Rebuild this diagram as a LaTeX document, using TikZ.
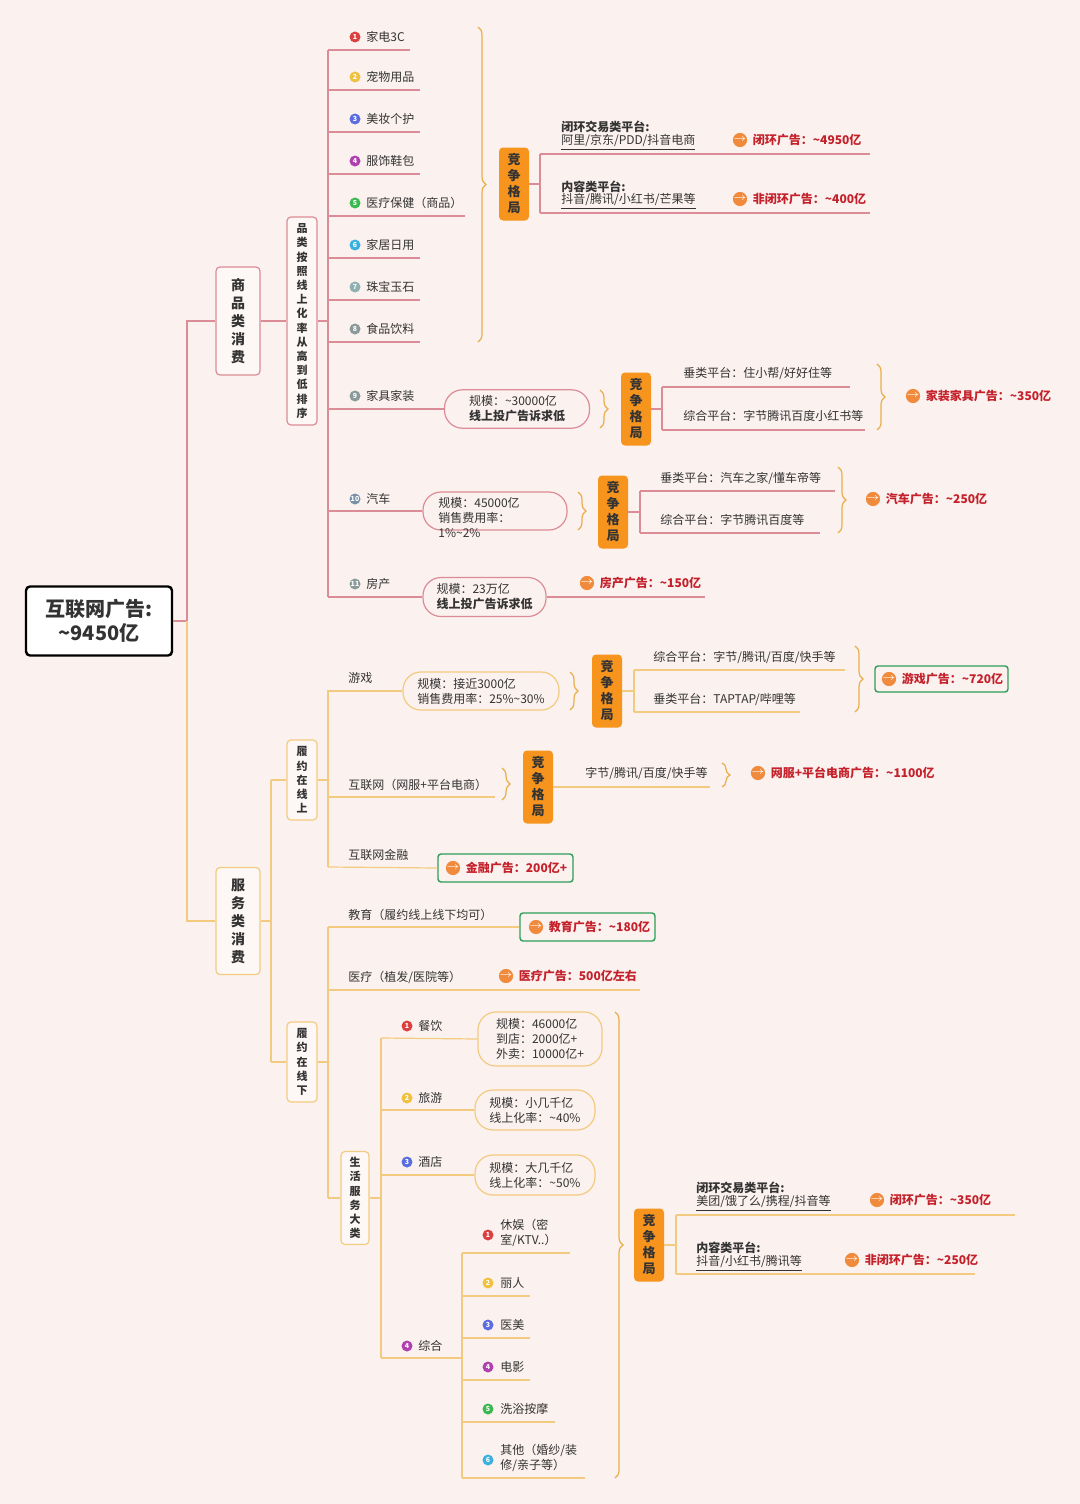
\documentclass[tikz,border=0pt]{standalone}
\usepackage{fontspec}
\setmainfont{Noto Sans CJK SC}
\usetikzlibrary{positioning,decorations.pathreplacing}

\definecolor{bgc}{HTML}{FBF1EE}
\definecolor{pkl}{HTML}{DC8C96}
\definecolor{orl}{HTML}{F3CB80}
\definecolor{brcc}{HTML}{E8AE4A}
\definecolor{jzc}{HTML}{F7941D}
\definecolor{redc}{HTML}{C4212B}
\definecolor{grn}{HTML}{2E9E5A}
\definecolor{icoc}{HTML}{F08A3C}
\definecolor{txt}{HTML}{333333}
\definecolor{boxf}{HTML}{FDF7F5}
\definecolor{c1}{HTML}{D9403F}
\definecolor{c2}{HTML}{F0C040}
\definecolor{c3}{HTML}{5B6DE0}
\definecolor{c4}{HTML}{B040B0}
\definecolor{c5}{HTML}{3CB850}
\definecolor{c6}{HTML}{3AB0E0}
\definecolor{c7}{HTML}{8FB0B0}
\definecolor{c8}{HTML}{8A9A9A}
\definecolor{c9}{HTML}{7A90A8}

\newcommand{\fs}{\fontsize{6}{7.5}\selectfont}
\newcommand{\tl}{\textasciitilde}
\newcommand{\adv}[4]{\node[ico] (#1i) at (#2,#3) {\(\rightarrow\)};
  \node[res,right=2.5pt of #1i] (#1) {#4};}

\tikzset{
  pk/.style={draw=pkl,line width=0.6pt},
  ol/.style={draw=orl,line width=0.6pt},
  brc/.style={draw=brcc,line width=0.6pt,decorate,decoration={brace,amplitude=4pt}},
  lbl/.style={anchor=west,inner sep=0pt,font=\fs,text=txt,align=left},
  num/.style={circle,fill=#1,text=white,inner sep=0pt,minimum size=5.5pt,font=\fontsize{3.5}{4}\selectfont\bfseries},
  vbox/.style={draw=#1,rounded corners=2pt,fill=boxf,align=center,inner sep=1pt,line width=0.6pt,
    font=\fontsize{6.5}{8}\selectfont\bfseries,text=txt},
  jz/.style={fill=jzc,rounded corners=2pt,align=center,minimum width=15pt,minimum height=36.5pt,
    inner sep=0pt,font=\fontsize{6.5}{8}\selectfont\bfseries,text=txt},
  pill/.style={draw=#1,rounded corners=9pt,align=left,inner sep=3pt,line width=0.6pt,font=\fs,text=txt},
  ico/.style={circle,fill=icoc,inner sep=0pt,minimum size=5.5pt,text=white,font=\fontsize{4}{4}\selectfont\bfseries},
  res/.style={anchor=west,inner sep=0pt,font=\fs\bfseries,text=redc},
  gbox/.style={draw=grn,line width=0.7pt,rounded corners=1.5pt,minimum height=13pt,inner sep=0pt},
}

\begin{document}
\begin{tikzpicture}[x=0.5pt,y=-0.5pt]
\fill[bgc] (0,0) rectangle (1080,1504);
\useasboundingbox (0,0) rectangle (1080,1504);

% root
\node[draw,line width=1.2pt,rounded corners=2pt,fill=white,align=center,minimum width=73pt,minimum height=34.5pt,
  font=\fontsize{10}{12}\selectfont\bfseries,text=txt] (root) at (99,621) {互联网广告:\\\tl9450亿};
\draw[pk] (root.east) -- (187,621);

% ---- goods
\node[vbox=pkl,minimum width=22pt,minimum height=54pt,font=\fontsize{7}{9}\selectfont\bfseries] (sp) at (238,321) {商\\品\\类\\消\\费};
\node[vbox=pkl,minimum width=15pt,minimum height=104pt,font=\fontsize{5.5}{7.1}\selectfont\bfseries] (pl) at (302,321)
  {品\\类\\按\\照\\线\\上\\化\\率\\从\\高\\到\\低\\排\\序};
\draw[pk] (187,621) |- (sp.west);
\draw[pk] (sp.east) -- (pl.west);
\draw[pk] (pl.east) -- (328,321);
\draw[pk] (328,50) -- (328,597);
\foreach \n/\t/\y/\w/\c in {1/家电3C/50/410/c1,2/宠物用品/90/420/c2,3/美妆个护/132/420/c3,4/服饰鞋包/174/420/c4,
  5/医疗保健（商品）/216/465/c5,6/家居日用/258/420/c6,7/珠宝玉石/300/420/c7,8/食品饮料/342/420/c8}{
  \node[num=\c] at (355,\y-13) {\n};
  \node[lbl] at (366,\y-13) {\t};
  \draw[pk] (328,\y) -- (\w,\y);
}
\draw[brc] (478,27) -- (478,342);
\node[jz] (jz1) at (514,184) {竞\\争\\格\\局};
\draw[pk] (jz1.east) -- (540,184);
\draw[pk] (540,154) -- (540,213);
\draw[pk] (540,154) -- (870,154);
\draw[pk] (540,213) -- (870,213);
\node[lbl,font=\fs\bfseries] at (561,127) {闭环交易类平台:};
\node[lbl] at (561,142) {\underline{阿里/京东/PDD/抖音电商}};
\node[lbl,font=\fs\bfseries] at (561,187) {内容类平台:};
\node[lbl] at (561,201) {\underline{抖音/腾讯/小红书/芒果等}};
\adv{a1}{740}{140}{闭环广告：\tl4950亿}
\adv{a2}{740}{199}{非闭环广告：\tl400亿}

% furniture
\node[num=c8] at (355,396) {9};
\node[lbl] at (366,396) {家具家装};
\node[pill=pkl,minimum width=72.5pt,minimum height=19pt] (p9) at (517,409) {规模：\tl30000亿\\\textbf{线上投广告诉求低}};
\draw[pk] (328,409) -- (p9.west);
\draw[brc] (600,390) -- (600,428);
\node[jz] (jz2) at (636,409) {竞\\争\\格\\局};
\draw[pk] (jz2.east) -- (662,409);
\draw[pk] (662,387) -- (662,430);
\draw[pk] (662,387) -- (850,387);
\draw[pk] (662,430) -- (865,430);
\node[lbl] at (683,374) {垂类平台：住小帮/好好住等};
\node[lbl] at (683,416) {综合平台：字节腾讯百度小红书等};
\draw[brc] (877,364) -- (877,430);
\adv{a3}{913}{396}{家装家具广告：\tl350亿}

% cars
\node[num=c9] at (355,499) {10};
\node[lbl] at (366,499) {汽车};
\node[pill=pkl,minimum width=72pt,minimum height=19pt] (p10) at (495,511) {};
\node[lbl] at (438,518) {规模：45000亿\\销售费用率：\\1\%\tl2\%};
\draw[pk] (328,511) -- (p10.west);
\draw[brc] (578,492) -- (578,530);
\node[jz] (jz3) at (613,512) {竞\\争\\格\\局};
\draw[pk] (jz3.east) -- (640,512);
\draw[pk] (640,491) -- (640,533);
\draw[pk] (640,491) -- (835,491);
\draw[pk] (640,533) -- (820,533);
\node[lbl] at (660,478) {垂类平台：汽车之家/懂车帝等};
\node[lbl] at (660,520) {综合平台：字节腾讯百度等};
\draw[brc] (838,467) -- (838,533);
\adv{a4}{873}{499}{汽车广告：\tl250亿}

% housing
\node[num=c8] at (355,584) {11};
\node[lbl] at (366,584) {房产};
\node[pill=pkl,minimum width=61.5pt,minimum height=19.5pt] (p11) at (484.5,597) {规模：23万亿\\\textbf{线上投广告诉求低}};
\draw[pk] (328,597) -- (p11.west);
\draw[pk] (p11.east) -- (705,597);
\adv{a5}{587}{583}{房产广告：\tl150亿}

% ---- services
\node[vbox=orl,minimum width=22pt,minimum height=53.5pt,font=\fontsize{7}{9}\selectfont\bfseries] (fw) at (238,921) {服\\务\\类\\消\\费};
\draw[ol] (187,621) |- (fw.west);
\draw[ol] (fw.east) -- (271,921);
\draw[ol] (271,780) -- (271,1062);
\node[vbox=orl,minimum width=15pt,minimum height=40pt,font=\fontsize{5.5}{7.1}\selectfont\bfseries] (xs) at (302,780) {履\\约\\在\\线\\上};
\node[vbox=orl,minimum width=15pt,minimum height=40pt,font=\fontsize{5.5}{7.1}\selectfont\bfseries] (xx) at (302,1062) {履\\约\\在\\线\\下};
\draw[ol] (271,780) -- (xs.west);
\draw[ol] (271,1062) -- (xx.west);

% online
\draw[ol] (xs.east) -- (328,780);
\draw[ol] (328,690) -- (328,867);
\node[lbl] at (348,678) {游戏};
\node[pill=orl,minimum width=78pt,minimum height=19pt] (pg) at (481,691) {规模：接近3000亿\\销售费用率：25\%\tl30\%};
\draw[ol] (328,691) -- (pg.west);
\draw[brc] (570,672) -- (570,710);
\node[jz] (jz4) at (607,691) {竞\\争\\格\\局};
\draw[ol] (jz4.east) -- (634,691);
\draw[ol] (634,670) -- (634,712);
\draw[ol] (634,670) -- (845,670);
\draw[ol] (634,712) -- (800,712);
\node[lbl] at (653,657) {综合平台：字节/腾讯/百度/快手等};
\node[lbl] at (653,699) {垂类平台：TAPTAP/哔哩等};
\draw[brc] (855,646) -- (855,712);
\node[gbox,minimum width=66.5pt] (g1) at (941.5,679) {};
\adv{a6}{889}{679}{游戏广告：\tl720亿}

\node[lbl] at (348,785) {互联网（网服+平台电商）};
\draw[ol] (328,797) -- (495,797);
\draw[brc] (502,768) -- (502,800);
\node[jz] (jz5) at (538,787) {竞\\争\\格\\局};
\draw[ol] (jz5.east) -- (710,787);
\node[lbl] at (585,773) {字节/腾讯/百度/快手等};
\draw[brc] (722,763) -- (722,787);
\adv{a7}{758}{773}{网服+平台电商广告：\tl1100亿}

\node[lbl] at (348,855) {互联网金融};
\node[gbox,minimum width=67.5pt,minimum height=14pt] (g2) at (505.5,868) {};
\draw[ol] (328,867) -- (g2.west);
\adv{a8}{453}{868}{金融广告：200亿+}

% offline
\draw[ol] (xx.east) -- (328,1062);
\draw[ol] (328,927) -- (328,1198);
\node[lbl] at (348,915) {教育（履约线上线下均可）};
\node[gbox,minimum width=67.5pt,minimum height=14pt] (g3) at (587.5,927) {};
\draw[ol] (328,927) -- (g3.west);
\adv{a9}{536}{927}{教育广告：\tl180亿}
\node[lbl] at (348,977) {医疗（植发/医院等）};
\draw[ol] (328,990) -- (640,990);
\adv{a10}{506}{976}{医疗广告：500亿左右}

\node[vbox=orl,minimum width=14pt,minimum height=46.5pt,font=\fontsize{5.5}{7.1}\selectfont\bfseries] (sh) at (355,1198) {生\\活\\服\\务\\大\\类};
\draw[ol] (328,1198) -- (sh.west);
\draw[ol] (sh.east) -- (381,1198);
\draw[ol] (381,1038) -- (381,1358);
\node[num=c1] at (407,1026) {1};
\node[lbl] at (418,1026) {餐饮};
\node[pill=orl,minimum width=62pt,minimum height=27pt] (pc) at (540,1039) {规模：46000亿\\到店：2000亿+\\外卖：10000亿+};
\draw[ol] (381,1038) -- (pc.west);
\node[num=c2] at (407,1098) {2};
\node[lbl] at (418,1098) {旅游};
\node[pill=orl,minimum width=60pt,minimum height=20pt] (pt) at (535,1110) {规模：小几千亿\\线上化率：\tl40\%};
\draw[ol] (381,1110) -- (pt.west);
\node[num=c3] at (407,1162) {3};
\node[lbl] at (418,1162) {酒店};
\node[pill=orl,minimum width=60pt,minimum height=20pt] (ph) at (535,1175) {规模：大几千亿\\线上化率：\tl50\%};
\draw[ol] (381,1175) -- (ph.west);
\node[num=c4] at (407,1346) {4};
\node[lbl] at (418,1346) {综合};
\draw[ol] (381,1358) -- (462,1358);
\draw[ol] (462,1253) -- (462,1478);
\foreach \n/\t/\y/\w/\c in {2/丽人/1296/530/c2,3/医美/1338/530/c3,4/电影/1380/530/c4,5/洗浴按摩/1422/555/c5}{
  \node[num=\c] at (488,\y-13) {\n};
  \node[lbl] at (500,\y-13) {\t};
  \draw[ol] (462,\y) -- (\w,\y);
}
\node[num=c1] at (488,1235) {1};
\node[lbl] at (500,1233) {休娱（密\\室/KTV..）};
\draw[ol] (462,1253) -- (570,1253);
\node[num=c6] at (488,1460) {6};
\node[lbl] at (500,1458) {其他（婚纱/装\\修/亲子等）};
\draw[ol] (462,1478) -- (585,1478);

\draw[brc] (615,1012) -- (615,1478);
\node[jz] (jz6) at (649,1245) {竞\\争\\格\\局};
\draw[ol] (jz6.east) -- (676,1245);
\draw[ol] (676,1215) -- (676,1274);
\draw[ol] (676,1215) -- (1015,1215);
\draw[ol] (676,1274) -- (975,1274);
\node[lbl,font=\fs\bfseries] at (696,1188) {闭环交易类平台:};
\node[lbl] at (696,1203) {\underline{美团/饿了么/携程/抖音等}};
\node[lbl,font=\fs\bfseries] at (696,1248) {内容类平台:};
\node[lbl] at (696,1263) {\underline{抖音/小红书/腾讯等}};
\adv{a11}{877}{1200}{闭环广告：\tl350亿}
\adv{a12}{852}{1260}{非闭环广告：\tl250亿}
\end{tikzpicture}
\end{document}
